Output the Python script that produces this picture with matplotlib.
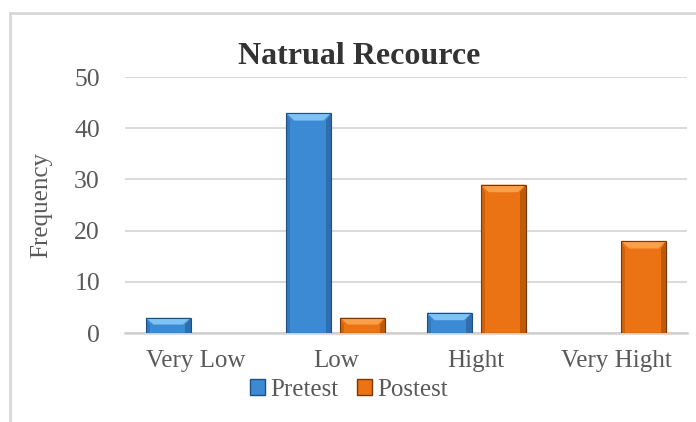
import matplotlib
matplotlib.use("Agg")
import matplotlib.pyplot as plt
from matplotlib.patches import Polygon, Patch
from matplotlib.lines import Line2D
import numpy as np

categories = ["Very Low", "Low", "Hight", "Very Hight"]
pretest = [3, 43, 4, 0]
postest = [0, 3, 29, 18]
series_names = ["Pretest", "Postest"]
title = "Natrual Recource"
ylabel = "Frequency"
yticks = [0, 10, 20, 30, 40, 50]

plt.rcParams['font.family'] = ['Liberation Serif', 'DejaVu Serif']

fig = plt.figure(figsize=(6.96, 4.22), dpi=100)
ax = fig.add_axes([125/696, 1-333/422, (687-125)/696, (333-77)/422])

x = np.arange(len(categories))
w = 0.32
gap = 0.064
off = (w + gap) / 2

colors = [
    dict(face="#3d8ad4", top="#7fc3f5", edge="#1f4f82", side="#2d6aa6"),
    dict(face="#ec7314", top="#fba04a", edge="#7a3604", side="#b85607"),
]

def draw_bars(xs, vals, c):
    xs = [xx for xx, v in zip(xs, vals) if v > 0]
    vals = [v for v in vals if v > 0]
    bars = ax.bar(xs, vals, w, color=c["face"], edgecolor="none", linewidth=0, zorder=3)
    for b in bars:
        h = b.get_height()
        x0 = b.get_x(); x1 = x0 + b.get_width()
        dx = 0.055
        dy = min(1.5, h * 0.45)
        ax.add_patch(Polygon([[x1, h], [x1, 0], [x1 - dx*0.7, 0], [x1 - dx*0.7, h - dy]],
                             closed=True, facecolor=c["side"], edgecolor="none", zorder=4, alpha=0.85))
        ax.add_patch(Polygon([[x0, h], [x0, 0], [x0 + dx*0.5, 0], [x0 + dx*0.5, h - dy]],
                             closed=True, facecolor=c["side"], edgecolor="none", zorder=4, alpha=0.55))
        ax.add_patch(Polygon([[x0, h], [x1, h], [x1 - dx, h - dy], [x0 + dx, h - dy]],
                             closed=True, facecolor=c["top"], edgecolor="none", zorder=5))
        ax.add_patch(plt.Rectangle((x0, 0), b.get_width(), h, fill=False,
                                   edgecolor=c["edge"], linewidth=0.8, zorder=6))
    return bars

draw_bars(x - off, pretest, colors[0])
draw_bars(x + off, postest, colors[1])

ax.set_xlim(-0.5, len(categories) - 0.5)
ax.set_ylim(0, 50)
ax.set_yticks(yticks)
ax.set_xticks(x)
ax.set_xticklabels(categories)
ax.tick_params(axis='both', length=0, labelsize=18, labelcolor="#595959")
ax.tick_params(axis='x', pad=12)
ax.tick_params(axis='y', labelsize=18.5, pad=18)
ax.yaxis.grid(True, color="#d9d9d9", linewidth=1.4, zorder=0)
ax.set_axisbelow(True)
for s in ["top", "right", "left"]:
    ax.spines[s].set_visible(False)
ax.spines["bottom"].set_color("#d0d0d0")
ax.spines["bottom"].set_linewidth(1.8)

ax.set_ylabel(ylabel, fontsize=18, color="#595959", labelpad=16)
fig.text(359/696, 1-56/422, title, fontsize=23, fontweight="bold", color="#333333",
         ha="center", va="center")

handles = [Patch(facecolor=colors[0]["face"], edgecolor=colors[0]["edge"]),
           Patch(facecolor=colors[1]["face"], edgecolor=colors[1]["edge"])]
leg = fig.legend(handles, series_names, loc="center", bbox_to_anchor=(349/696, 1-390/422),
                 ncol=2, frameon=False, fontsize=18, handlelength=0.6, handleheight=0.6,
                 handletextpad=0.2, columnspacing=0.75, borderpad=0)
for t in leg.get_texts():
    t.set_color("#595959")

fig.add_artist(Line2D([10/696, 10/696], [0, 1-13/422], color="#d9d9d9", linewidth=2, transform=fig.transFigure))
fig.add_artist(Line2D([10/696, 1], [1-13/422, 1-13/422], color="#d9d9d9", linewidth=2, transform=fig.transFigure))

fig.savefig("out.png", dpi=100)
